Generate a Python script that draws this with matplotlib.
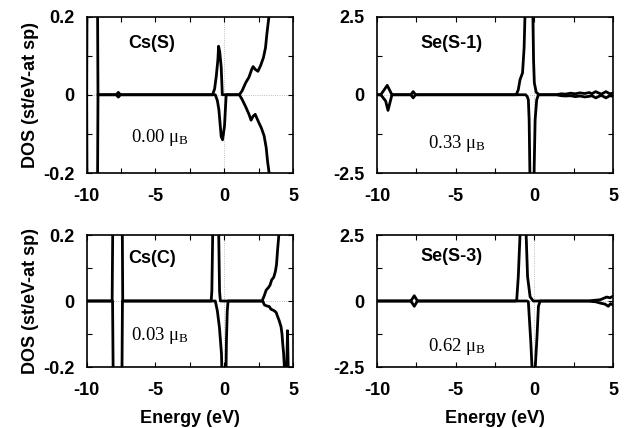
import matplotlib
matplotlib.use("Agg")
import matplotlib.pyplot as plt
from matplotlib.ticker import FixedLocator

plt.rcParams['font.family'] = ['Liberation Sans', 'DejaVu Sans']
plt.rcParams['axes.unicode_minus'] = False
plt.rcParams['mathtext.fontset'] = 'custom'
plt.rcParams['mathtext.rm'] = 'Liberation Serif:weight=normal'
plt.rcParams['mathtext.it'] = 'Liberation Serif:italic:weight=normal'

# ---------------- data ----------------
x_ticks = [-10, -5, 0, 5]
x_minor = [-7.5, -2.5, 2.5]
x_tick_labels = ['-10', '-5', '0', '5']

cs_y_ticks = [-0.2, 0, 0.2]
cs_y_minor = [-0.1, 0.1]
cs_y_labels = ['-0.2', '0', '0.2']
se_y_ticks = [-2.5, 0, 2.5]
se_y_minor = [-1.25, 1.25]
se_y_labels = ['-2.5', '0', '2.5']

titles = ['Cs(S)', 'Se(S-1)', 'Cs(C)', 'Se(S-3)']
moments = ['0.00', '0.33', '0.03', '0.62']

# Cs(S)
csS_up_E = [-10.0, -9.95, -9.6, -9.25, -9.18, -7.85, -7.7, -7.55, -0.85, -0.7, -0.58, -0.46,
            -0.41, -0.33, -0.22, -0.14, 1.1, 1.3, 1.55, 1.8, 2.0, 2.1, 2.25, 2.45, 2.65, 2.85,
            3.0, 3.1, 3.25, 3.4, 5.0]
csS_up_D = [0.0, 0.5, 1.0, 0.5, 0.0, 0.0, 0.006, 0.0, 0.0, 0.015, 0.047, 0.09,
            0.124, 0.11, 0.07, 0.0, 0.0, 0.01, 0.03, 0.045, 0.065, 0.072, 0.065, 0.06, 0.075, 0.095,
            0.12, 0.155, 0.2, 0.3, 0.6]
csS_dn_E = [-10.0, -9.95, -9.6, -9.25, -9.18, -7.85, -7.7, -7.55, -0.65, -0.5, -0.39, -0.22,
            -0.12, 0.02, 0.14, 1.1, 1.3, 1.55, 1.8, 1.95, 2.1, 2.25, 2.5, 2.7, 2.9,
            3.05, 3.15, 3.3, 3.5, 5.0]
csS_dn_D = [0.0, -0.5, -1.0, -0.5, 0.0, 0.0, -0.006, 0.0, 0.0, -0.015, -0.038, -0.107,
            -0.115, -0.08, 0.0, 0.0, -0.012, -0.03, -0.05, -0.065, -0.055, -0.05, -0.07, -0.085, -0.105,
            -0.135, -0.17, -0.21, -0.3, -0.6]

# Se(S-1)
se1_up_E = [-10.0, -9.76, -9.35, -9.05, -7.85, -7.7, -7.55, -1.15, -1.02, -0.91, -0.75, -0.65,
            -0.58, -0.35, -0.1, -0.05, 0.0, 0.12, 0.3, 1.4, 1.7, 2.0, 2.3, 2.6, 2.9, 3.2, 3.5,
            3.65, 3.9, 4.2, 4.3, 4.55, 4.8, 5.0]
se1_up_D = [0.0, 0.0, 0.3, 0.0, 0.0, 0.1, 0.0, 0.0, 0.16, 0.48, 0.7, 1.5,
            2.8, 6.0, 2.8, 1.12, 0.38, 0.08, 0.0, 0.0, 0.03, 0.02, 0.05, 0.03, 0.06, 0.04, 0.07,
            0.03, 0.1, 0.03, 0.03, 0.1, 0.03, 0.05]
se1_dn_E = [-10.0, -9.76, -9.45, -9.3, -9.05, -7.85, -7.7, -7.55, -0.55, -0.45, -0.38, -0.33,
            -0.28, -0.15, -0.02, 0.05, 0.15, 0.26, 1.4, 1.7, 2.0, 2.3, 2.6, 2.9, 3.2, 3.5,
            3.65, 3.9, 4.2, 4.3, 4.55, 4.8, 5.0]
se1_dn_D = [0.0, 0.0, -0.2, -0.5, 0.0, 0.0, -0.1, 0.0, 0.0, -0.06, -0.16, -0.8,
            -2.6, -6.0, -2.6, -0.8, -0.16, 0.0, 0.0, -0.03, -0.04, -0.03, -0.06, -0.04, -0.07, -0.05,
            -0.03, -0.1, -0.03, -0.03, -0.1, -0.03, -0.05]

# Cs(C)
csC_up_E = [-10.0, -8.15, -8.05, -7.7, -7.45, -7.38, -0.95, -0.9, -0.84, -0.62, -0.4, -0.34,
            -0.28, 2.75, 2.9, 3.05, 3.2, 3.33, 3.45, 3.6, 3.72, 3.8, 3.88, 3.97, 4.05, 5.0]
csC_up_D = [0.0, 0.0, 0.5, 1.0, 0.5, 0.0, 0.0, 0.03, 0.2, 0.8, 0.2, 0.03,
            0.0, 0.0, 0.015, 0.033, 0.04, 0.048, 0.064, 0.072, 0.09, 0.11, 0.155, 0.2, 0.3, 0.6]
csC_dn_E = [-10.0, -8.12, -8.02, -7.7, -7.48, -7.4, -0.65, -0.5, -0.35, -0.2, -0.12, 0.0,
            0.1, 0.16, 0.22, 0.28, 2.8, 2.92, 3.1, 3.28, 3.4, 3.52, 3.65, 3.78, 3.88, 4.0,
            4.13, 4.2, 4.25, 4.32, 4.37, 4.45, 4.55, 4.6, 4.65, 4.75, 5.0]
csC_dn_D = [0.0, 0.0, -0.5, -1.0, -0.5, 0.0, 0.0, -0.03, -0.08, -0.16, -0.3, -0.6,
            -0.3, -0.12, -0.03, 0.0, 0.0, -0.012, -0.015, -0.017, -0.025, -0.027, -0.03, -0.035, -0.047, -0.06,
            -0.078, -0.1, -0.128, -0.16, -0.2, -0.3, -0.2, -0.09, -0.2, -0.3, -0.3]

# Se(S-3)
se3_up_E = [-10.0, -7.85, -7.63, -7.43, -1.2, -1.12, -1.02, -0.91, -0.75, -0.52, -0.43, -0.27,
            -0.07, 3.4, 3.7, 3.9, 4.2, 4.4, 4.6, 4.8, 5.0]
se3_up_D = [0.0, 0.0, 0.2, 0.0, 0.0, 0.04, 0.92, 2.5, 6.0, 2.5, 0.92, 0.16,
            0.0, 0.0, 0.02, 0.03, 0.05, 0.1, 0.15, 0.12, 0.18]
se3_dn_E = [-10.0, -7.85, -7.63, -7.43, -0.45, -0.38, -0.22, -0.15, -0.05, 0.06, 0.17, 0.26,
            0.37, 3.4, 3.7, 3.9, 4.2, 4.5, 4.7, 4.85, 5.0]
se3_dn_D = [0.0, 0.0, -0.2, 0.0, 0.0, -0.03, -1.6, -2.5, -6.0, -2.5, -1.35, -0.2,
            0.0, 0.0, -0.02, -0.03, -0.08, -0.12, -0.2, -0.1, -0.15]

panels = [
    (csS_up_E, csS_up_D, csS_dn_E, csS_dn_D),
    (se1_up_E, se1_up_D, se1_dn_E, se1_dn_D),
    (csC_up_E, csC_up_D, csC_dn_E, csC_dn_D),
    (se3_up_E, se3_up_D, se3_dn_E, se3_dn_D),
]

# ---------------- layout ----------------
W, H = 627, 428
fig = plt.figure(figsize=(W / 100, H / 100), dpi=100)

def rect(l, r, t, b):
    return [l / W, 1 - b / H, (r - l) / W, (b - t) / H]

rects = [rect(86.7, 293, 16.5, 173), rect(377, 613, 16.5, 173),
         rect(86.7, 293, 235, 367), rect(377, 613, 235, 367)]
title_pos = [(0.315, 0.83), (0.317, 0.83), (0.315, 0.82), (0.317, 0.835)]
mom_pos = [(0.355, 0.23), (0.338, 0.19), (0.355, 0.235), (0.338, 0.154)]

for i, (r, data) in enumerate(zip(rects, panels)):
    ax = fig.add_axes(r)
    is_cs = (i % 2 == 0)
    ax.axhline(0, color='#aaaaaa', lw=0.6, ls=':', zorder=1)
    ax.axvline(0, color='#aaaaaa', lw=0.6, ls=':', zorder=1)
    uE, uD, dE, dD = data
    ax.plot(uE, uD, color='black', lw=2.0, zorder=3, solid_joinstyle='round')
    ax.plot(dE, dD, color='black', lw=2.0, zorder=3, solid_joinstyle='round')
    ax.set_xlim(-10, 5)
    ax.xaxis.set_major_locator(FixedLocator(x_ticks))
    ax.xaxis.set_minor_locator(FixedLocator(x_minor))
    ax.set_xticklabels(x_tick_labels)
    if is_cs:
        ax.set_ylim(-0.2, 0.2)
        ax.yaxis.set_major_locator(FixedLocator(cs_y_ticks))
        ax.yaxis.set_minor_locator(FixedLocator(cs_y_minor))
        ax.set_yticklabels(cs_y_labels)
        ax.set_ylabel('DOS (st/eV-at sp)', fontsize=13, fontweight='bold', labelpad=3)
    else:
        ax.set_ylim(-2.5, 2.5)
        ax.yaxis.set_major_locator(FixedLocator(se_y_ticks))
        ax.yaxis.set_minor_locator(FixedLocator(se_y_minor))
        ax.set_yticklabels(se_y_labels)
    if i >= 2:
        ax.set_xlabel('Energy (eV)', fontsize=13, fontweight='bold', labelpad=8)
    ax.tick_params(which='both', direction='in', top=True, right=True, length=3.5, width=0.8,
                   labelsize=13)
    ax.tick_params(axis='x', which='both', pad=11)
    ax.tick_params(axis='y', which='both', pad=9)
    for lab in ax.get_xticklabels() + ax.get_yticklabels():
        lab.set_fontweight('bold')
    for s in ax.spines.values():
        s.set_linewidth(1.2)
    ax.text(title_pos[i][0], title_pos[i][1], titles[i], transform=ax.transAxes,
            ha='center', va='center', fontsize=13, fontweight='bold')
    ax.text(mom_pos[i][0], mom_pos[i][1], moments[i] + r' $\mathrm{\mu_B}$', transform=ax.transAxes,
            ha='center', va='center', fontsize=13.5, family='Liberation Serif', fontweight='normal')

fig.savefig('out.png', dpi=100)
